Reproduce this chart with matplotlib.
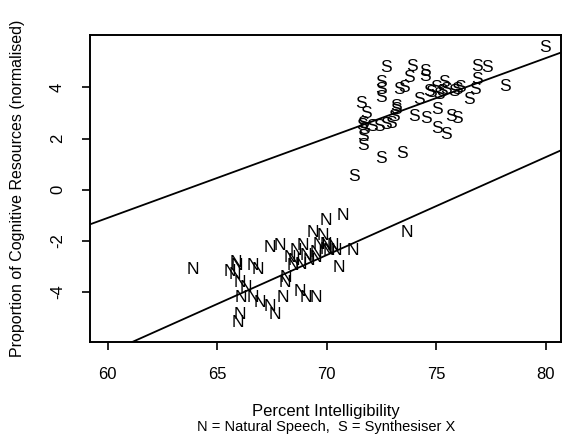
# Cognitive resources vs intelligibility, natural speech vs synthesiser
import numpy as np
import matplotlib
matplotlib.use('Agg')
import matplotlib.pyplot as plt

plt.rcParams['font.family'] = ['Liberation Sans', 'DejaVu Sans']

# Synthesiser X (S) points: percent intelligibility, normalised resources
s_x = [79.96, 72.69, 73.90, 74.50, 74.50, 76.85, 77.30, 72.46, 73.75,
       73.30, 73.52, 72.46, 72.46, 71.55, 71.78, 71.63, 71.70, 71.63, 71.63,
       72.08, 72.39, 72.69, 72.92, 73.15, 73.07, 73.98, 74.51, 74.20, 74.66,
       74.96, 75.34, 75.42, 75.11, 75.04, 75.65, 75.95, 75.04, 75.42, 75.95,
       76.10, 76.78, 76.48, 76.85, 78.15, 72.46, 73.45, 71.25, 74.74, 75.26,
       75.80, 73.15, 71.60]
s_y = [5.56, 4.77, 4.83, 4.64, 4.44, 4.83, 4.77, 4.18, 4.38,
       3.92, 3.98, 3.92, 3.59, 3.39, 3.00, 2.61, 2.34, 2.08, 1.75,
       2.47, 2.47, 2.54, 2.61, 3.13, 2.87, 2.87, 2.80, 3.52, 3.85,
       3.98, 4.18, 3.92, 3.72, 3.13, 2.87, 2.80, 2.41, 2.15, 3.92,
       3.98, 3.92, 3.52, 4.31, 4.05, 1.23, 1.43, 0.50, 3.79, 3.85,
       3.85, 3.25, 2.50]

# Natural speech (N) points
n_x = [63.90, 69.96, 70.72, 73.67, 71.17, 70.57, 69.35, 69.81, 67.39, 67.84,
       65.87, 65.80, 66.63, 66.86, 66.02, 66.33, 66.10, 66.63, 66.93, 67.39,
       67.61, 67.99, 66.02, 65.95, 68.15, 68.07, 68.75, 69.05, 69.51, 68.30,
       68.60, 68.90, 69.05, 69.51, 69.96, 70.11, 70.26, 70.42, 68.45, 68.83,
       69.20, 69.51, 65.90, 65.60, 69.66, 69.96, 68.50]
n_y = [-3.10, -1.20, -1.00, -1.66, -2.38, -3.04, -1.66, -1.79, -2.25, -2.19,
       -2.84, -3.30, -2.97, -3.10, -3.63, -3.83, -4.22, -4.22, -4.42, -4.55,
       -4.87, -4.22, -4.87, -5.20, -3.43, -3.63, -3.96, -4.22, -4.22, -2.65,
       -2.38, -2.19, -2.58, -2.65, -2.32, -2.38, -2.19, -2.38, -2.97, -2.91,
       -2.78, -2.45, -2.97, -3.20, -2.12, -2.12, -2.76]

# fitted lines (value at x=60, slope)
s_line = (-1.10, 0.3125)
n_line = (-6.38, 0.383)

fig = plt.figure(figsize=(5.63, 4.43), dpi=100)
ax = fig.add_axes([0.16, 0.228, 0.837, 0.693])

for x, y in zip(s_x, s_y):
    ax.text(x, y, 'S', ha='center', va='center', fontsize=12.5)
for x, y in zip(n_x, n_y):
    ax.text(x, y, 'N', ha='center', va='center', fontsize=12.5)

ax.axline((60, s_line[0]), slope=s_line[1], color='black', lw=1.3)
ax.axline((60, n_line[0]), slope=n_line[1], color='black', lw=1.3)

ax.set_xlim(59.2, 80.7)
ax.set_ylim(-5.95, 6.05)
ax.set_xticks([60, 65, 70, 75, 80])
ax.set_yticks([-4, -2, 0, 2, 4])
ax.set_yticklabels(['-4', '-2', '0', '2', '4'], rotation=90, va='center')
ax.tick_params(direction='out', length=6, width=1.2, labelsize=12, pad=12)
ax.tick_params(axis='y', pad=12)
for sp in ax.spines.values():
    sp.set_linewidth(1.4)

ax.set_xlabel('Percent Intelligibility', fontsize=12, labelpad=16)
ax.text(0.5, -0.277, 'N = Natural Speech,  S = Synthesiser X', transform=ax.transAxes,
        ha='center', va='center', fontsize=10.5)
ax.set_ylabel('Proportion of Cognitive Resources (normalised)', fontsize=11.5,
              labelpad=18)

fig.savefig('out.png', dpi=100)
